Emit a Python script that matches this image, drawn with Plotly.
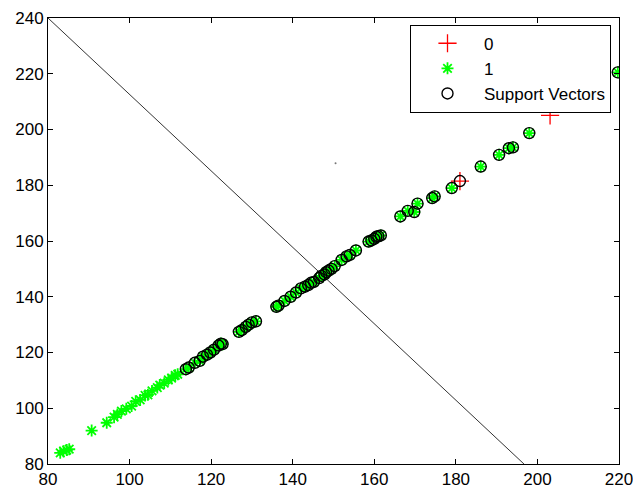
import plotly.graph_objects as go

# Class 0 points (red +)
class0_x = [181.0, 203.1]
class0_y = [181.5, 205.1]

# Class 1 points (green *)
class1_x = [83.0, 83.8, 84.6, 85.2, 90.7, 94.4, 96.2, 97.0, 98.0, 99.2, 100.5, 101.5,
            102.6, 103.8, 104.5, 105.5, 106.8, 107.4, 108.5, 109.5, 110.3, 111.2, 111.8,
            113.8, 114.5, 116.0, 117.2, 118.0, 119.0, 119.8, 120.7, 121.8, 122.4, 122.8,
            126.8, 127.5, 128.5, 129.2, 130.0, 131.0, 136.0, 136.5, 138.0, 139.5, 140.8,
            142.0, 143.0, 143.8, 144.5, 145.2, 146.5, 147.0, 147.8, 148.2, 148.8, 149.5,
            150.3, 152.0, 153.2, 154.0, 155.5, 158.6, 159.3, 160.0, 160.5, 161.0, 161.6,
            166.4, 168.2, 169.8, 170.6, 174.2, 174.8, 179.0, 186.1, 190.6, 193.0, 194.0,
            198.0, 209.0, 219.7]
class1_y = [84.0, 84.6, 85.0, 85.3, 92.0, 94.8, 96.8, 97.8, 99.0, 99.8, 100.8, 102.5,
            103.0, 104.6, 104.8, 106.2, 107.4, 108.3, 109.0, 110.2, 110.8, 111.8, 112.2,
            114.0, 114.6, 116.3, 117.0, 118.5, 119.2, 120.0, 121.0, 122.5, 123.2, 123.0,
            127.4, 128.0, 129.2, 130.0, 130.8, 131.2, 136.4, 136.8, 138.5, 140.0, 141.5,
            143.0, 143.6, 144.2, 145.0, 145.3, 146.7, 147.5, 148.0, 148.8, 149.4, 150.0,
            151.0, 153.2, 154.5, 155.0, 156.6, 159.8, 160.2, 160.8, 161.5, 161.7, 162.0,
            168.8, 170.8, 170.4, 173.4, 175.4, 176.0, 179.0, 186.7, 190.9, 193.3, 193.6,
            198.7, 209.7, 220.5]

# Support vectors (black circles)
sv_x = [113.8, 114.5, 116.0, 117.2, 118.0, 119.0, 119.8, 120.7, 121.8, 122.4, 122.8,
        126.8, 127.5, 128.5, 129.2, 130.0, 131.0, 136.0, 136.5, 138.0, 139.5, 140.8,
        142.0, 143.0, 143.8, 144.5, 145.2, 146.5, 147.0, 147.8, 148.2, 148.8, 149.5,
        150.3, 152.0, 153.2, 154.0, 155.5, 158.6, 159.3, 160.0, 160.5, 161.0, 161.6,
        166.4, 168.2, 169.8, 170.6, 174.2, 174.8, 179.0, 181.0, 186.1, 190.6, 193.0,
        194.0, 198.0, 209.0, 219.7]
sv_y = [114.0, 114.6, 116.3, 117.0, 118.5, 119.2, 120.0, 121.0, 122.5, 123.2, 123.0,
        127.4, 128.0, 129.2, 130.0, 130.8, 131.2, 136.4, 136.8, 138.5, 140.0, 141.5,
        143.0, 143.6, 144.2, 145.0, 145.3, 146.7, 147.5, 148.0, 148.8, 149.4, 150.0,
        151.0, 153.2, 154.5, 155.0, 156.6, 159.8, 160.2, 160.8, 161.5, 161.7, 162.0,
        168.8, 170.8, 170.4, 173.4, 175.4, 176.0, 179.0, 181.5, 186.7, 190.9, 193.3,
        193.6, 198.7, 209.7, 220.5]

# Decision boundary
boundary_x = [80, 196.7]
boundary_y = [240, 80]

# stray dot
dot_x = [150.5]
dot_y = [187.9]

x_ticks = [80, 100, 120, 140, 160, 180, 200, 220]
y_ticks = [80, 100, 120, 140, 160, 180, 200, 220, 240]

fig = go.Figure()

fig.add_trace(go.Scatter(x=boundary_x, y=boundary_y, mode="lines",
                         line=dict(color="#333333", width=1), showlegend=False,
                         hoverinfo="skip"))
fig.add_trace(go.Scatter(x=dot_x, y=dot_y, mode="markers",
                         marker=dict(color="#777777", size=2), showlegend=False))
fig.add_trace(go.Scatter(x=class0_x, y=class0_y, mode="markers", name="0",
                         marker=dict(symbol="cross-thin-open", size=13, color="#ff0000",
                                     line=dict(color="#ff0000", width=1.3))))
fig.add_trace(go.Scatter(x=class1_x, y=class1_y, mode="markers", name="1",
                         marker=dict(symbol="asterisk-open", size=10, color="#00ff00",
                                     line=dict(color="#00ff00", width=1.8))))
fig.add_trace(go.Scatter(x=sv_x, y=sv_y, mode="markers", name="Support Vectors",
                         marker=dict(symbol="circle-open", size=11, color="#000000",
                                     line=dict(color="#000000", width=1.4))))

axis_common = dict(showline=True, linecolor="black", linewidth=1, mirror="ticks",
                   ticks="inside", ticklen=5, tickcolor="black", tickwidth=1,
                   showgrid=False, zeroline=False, automargin=False,
                   ticklabeloverflow="allow",
                   tickfont=dict(family="Liberation Sans, Arial", size=17, color="black"))

fig.update_xaxes(range=[80, 220], tickvals=x_ticks, **axis_common)
fig.update_yaxes(range=[80, 240], tickvals=y_ticks, **axis_common)

fig.update_layout(
    width=633, height=489,
    margin=dict(l=48, r=14, t=18, b=25),
    paper_bgcolor="white", plot_bgcolor="white",
    showlegend=True,
    legend=dict(x=0.986, xanchor="right", y=0.985, yanchor="top",
                bgcolor="white", bordercolor="black", borderwidth=1,
                font=dict(family="Liberation Sans, Arial", size=17, color="black"),
                itemwidth=63),
)

fig.write_html("out.html", config={"displayModeBar": False},
               post_script="document.body.style.margin='0';document.body.style.overflow='hidden';")
